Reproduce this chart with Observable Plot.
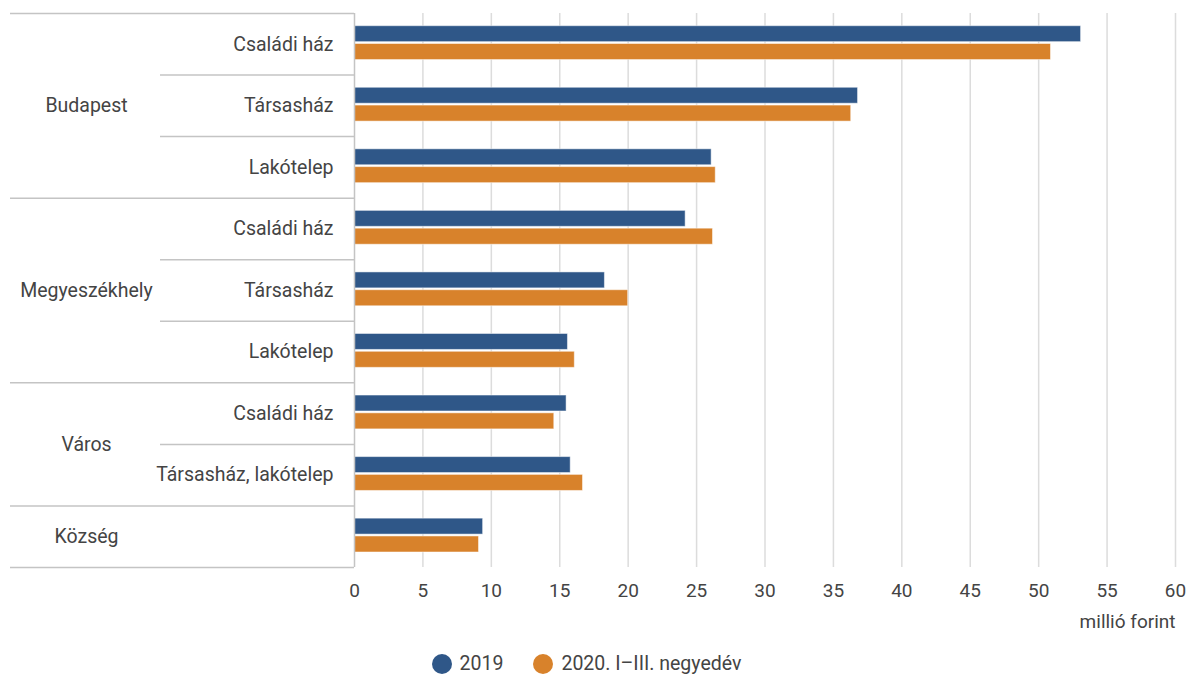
<!DOCTYPE html>
<html>
<head>
<meta charset="utf-8">
<script src="https://cdn.jsdelivr.net/npm/d3@7"></script>
<script src="https://cdn.jsdelivr.net/npm/@observablehq/plot@0.6"></script>
<style>
  html, body { margin: 0; padding: 0; background: #fff; }
  body { width: 1187px; height: 675px; overflow: hidden; font-family: Roboto, "Noto Sans", sans-serif; }
  #legend { display: flex; justify-content: center; align-items: center; margin-top: 12px; font-size: 19.5px; color: #444; padding-right: 14px; }
  .item { display: flex; align-items: center; margin: 0 15px; }
  .dot { width: 20px; height: 20px; border-radius: 50%; margin-right: 8px; }
</style>
</head>
<body>
<div id="chart"></div>
<div id="legend"></div>
<script>
// ---- data ----
const groups = ["Budapest", "Megyeszékhely", "Város", "Község"];
const rowGroup = ["Budapest", "Budapest", "Budapest", "Megyeszékhely", "Megyeszékhely", "Megyeszékhely", "Város", "Város", "Község"];
const rowLabel = ["Családi ház", "Társasház", "Lakótelep", "Családi ház", "Társasház", "Lakótelep", "Családi ház", "Társasház, lakótelep", ""];
const values2019 = [53.1, 36.8, 26.1, 24.2, 18.3, 15.6, 15.5, 15.8, 9.4];
const values2020 = [50.9, 36.3, 26.4, 26.2, 20.0, 16.1, 14.6, 16.7, 9.1];
const seriesNames = ["2019", "2020. I–III. negyedév"];
const seriesColors = ["#2f5788", "#d8822b"];
const xTicks = [0, 5, 10, 15, 20, 25, 30, 35, 40, 45, 50, 55, 60];
const xLabel = "millió forint";

// ---- derived tables ----
const rows = rowLabel.map((label, i) => ({i, group: rowGroup[i], label}));
const bars2019 = rows.map(r => ({...r, value: values2019[r.i]}));
const bars2020 = rows.map(r => ({...r, value: values2020[r.i]}));
const groupInfo = groups.map(g => {
  const idx = rows.filter(r => r.group === g).map(r => r.i);
  return {group: g, start: d3.min(idx), end: d3.max(idx) + 1};
});
const groupBounds = [0, ...groupInfo.map(g => g.end)];
const innerBounds = rows.filter(r => r.i > 0 && rows[r.i - 1].group === r.group).map(r => r.i);

const W = 1187, ML = 354, MR = 12;
const plotW = W - ML - MR;
const labelColor = "#444";

const chart = Plot.plot({
  width: W,
  height: 640,
  marginLeft: ML,
  marginRight: MR,
  marginTop: 13,
  marginBottom: 73,
  style: {fontFamily: "Roboto, sans-serif", fontSize: "19px", color: labelColor, background: "#fff", overflow: "visible"},
  x: {domain: [0, 60], ticks: xTicks, tickSize: 0, tickPadding: 16, label: null},
  y: {domain: [0, rows.length], reverse: true, axis: null},
  marks: [
    Plot.ruleX(xTicks.slice(1), {stroke: "#dcdcdc", strokeWidth: 1.5}),
    Plot.rect(bars2019, {x1: 0, x2: "value", y1: "i", y2: d => d.i + 1, fill: seriesColors[0], stroke: "#fff", strokeOpacity: 0.5, strokeWidth: 1, insetTop: 12.7, insetBottom: 32.9}),
    Plot.rect(bars2020, {x1: 0, x2: "value", y1: "i", y2: d => d.i + 1, fill: seriesColors[1], stroke: "#fff", strokeOpacity: 0.5, strokeWidth: 1, insetTop: 30.5, insetBottom: 15}),
    Plot.ruleX([0], {stroke: "#c4c4c4", strokeWidth: 1.5}),
    Plot.ruleY(groupBounds, {stroke: "#c4c4c4", strokeWidth: 1.5, insetLeft: -(ML - 10), insetRight: plotW}),
    Plot.ruleY(innerBounds, {stroke: "#c4c4c4", strokeWidth: 1.5, insetLeft: -(ML - 160), insetRight: plotW}),
    Plot.text(rows.filter(r => r.label), {y: d => d.i + 0.5, text: "label", frameAnchor: "left", dx: -21, textAnchor: "end", fill: labelColor, fontSize: 19.5}),
    Plot.text(groupInfo, {y: d => (d.start + d.end) / 2, text: "group", frameAnchor: "left", dx: -(ML - 86), textAnchor: "middle", fill: labelColor, fontSize: 19.5}),
    Plot.text([xLabel], {text: d => d, frameAnchor: "bottom-right", textAnchor: "end", lineAnchor: "middle", dy: 54, fill: labelColor, fontSize: 19})
  ]
});
document.getElementById("chart").appendChild(chart);

const legend = d3.select("#legend");
seriesNames.forEach((name, k) => {
  const item = legend.append("div").attr("class", "item");
  item.append("div").attr("class", "dot").style("background", seriesColors[k]);
  item.append("span").text(name);
});
</script>
</body>
</html>
